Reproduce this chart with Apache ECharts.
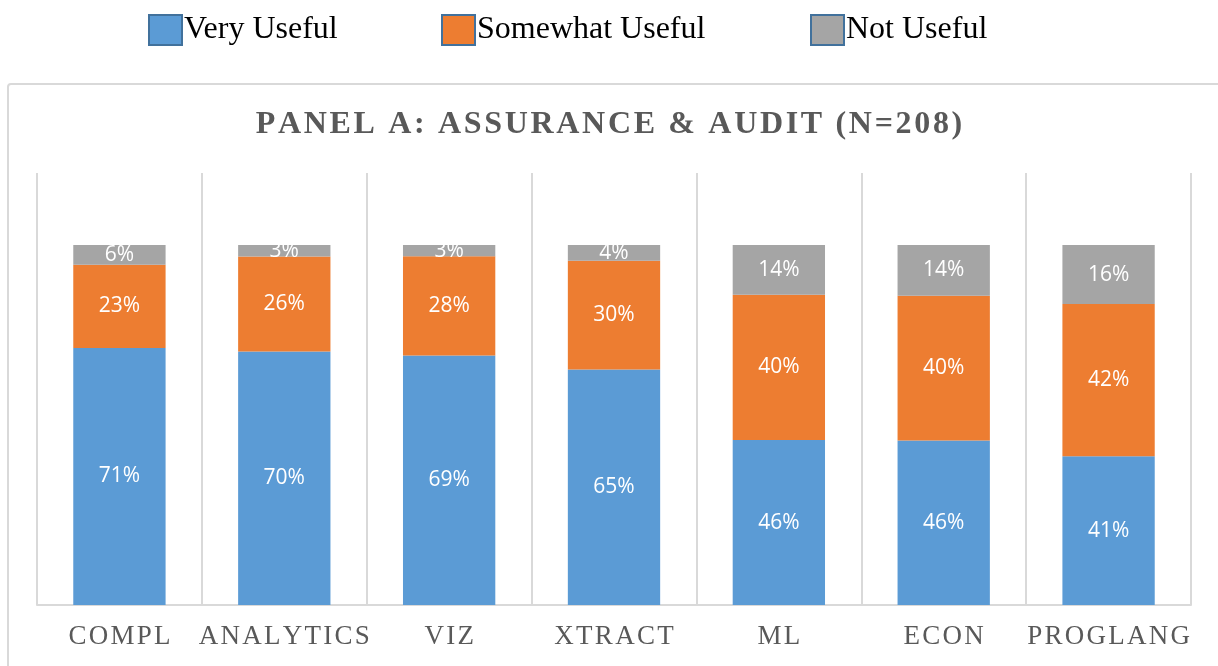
<!DOCTYPE html>
<html>
<head>
<meta charset="utf-8">
<script src="https://cdn.jsdelivr.net/npm/echarts@6/dist/echarts.min.js"></script>
<style>
  html, body { margin: 0; padding: 0; background: #fff; }
  #chart { width: 1218px; height: 666px; }
</style>
</head>
<body>
<div id="chart"></div>
<script>
// categorias e valores (% das respostas)
const categories = ['COMPL', 'ANALYTICS', 'VIZ', 'XTRACT', 'ML', 'ECON', 'PROGLANG']
const veryUseful = [71.4, 70.4, 69.3, 65.4, 45.8, 45.7, 41.3]
const somewhatUseful = [23.1, 26.4, 27.6, 30.2, 40.4, 40.2, 42.3]
const notUseful = [5.5, 3.2, 3.1, 4.4, 13.8, 14.1, 16.4]
const seriesNames = ['Very Useful', 'Somewhat Useful', 'Not Useful']
const titleText = 'PANEL A: ASSURANCE & AUDIT (N=208)'

const colors = ['#5B9BD5', '#ED7D31', '#A5A5A5']
const serif = '"Liberation Serif", "Times New Roman", serif'

// espaçamento entre letras (o zrender não tem letterSpacing)
const spaced = (s, sep) => s.split('').join(sep)

const chart = echarts.init(document.getElementById('chart'))

const legendAt = (name, left) => ({
  data: [name],
  left: left,
  top: 14,
  padding: 0,
  icon: 'rect',
  itemWidth: 33,
  itemHeight: 30,
  itemStyle: { borderColor: '#41719C', borderWidth: 2 },
  textStyle: { fontFamily: serif, fontSize: 32, color: '#000', padding: [0, 0, 0, -3] }
})

const barLabel = {
  show: true,
  position: 'inside',
  color: '#fff',
  fontFamily: '"Open Sans", "Noto Sans", sans-serif',
  fontSize: 21,
  formatter: (p) => Math.round(p.value) + '%'
}

const makeSeries = (name, data, i) => ({
  name: name,
  type: 'bar',
  stack: 'total',
  barWidth: '56%',
  data: data,
  itemStyle: { color: colors[i] },
  label: barLabel,
  emphasis: { disabled: true }
})

chart.setOption({
  animation: false,
  color: colors,
  legend: [
    legendAt(seriesNames[0], 148),
    legendAt(seriesNames[1], 441),
    legendAt(seriesNames[2], 810)
  ],
  title: {
    text: spaced(titleText, '\u200A'),
    left: 'center',
    top: 104,
    textStyle: { fontFamily: serif, fontWeight: 'bold', fontSize: 32, color: '#595959' }
  },
  graphic: [{
    type: 'rect',
    shape: { x: 8, y: 84, width: 1230, height: 620, r: 3 },
    style: { fill: 'none', stroke: '#d9d9d9', lineWidth: 2 },
    z: -1
  }],
  grid: { left: 37, right: 27, top: 173, bottom: 61 },
  xAxis: {
    type: 'category',
    data: categories,
    axisLine: { lineStyle: { color: '#d9d9d9', width: 2 } },
    axisTick: { show: false },
    splitLine: { show: true, lineStyle: { color: '#d9d9d9', width: 2 } },
    axisLabel: {
      fontFamily: serif,
      fontSize: 27,
      color: '#595959',
      margin: 18,
      interval: 0,
      formatter: (v) => spaced(v, '\u200A')
    }
  },
  yAxis: {
    type: 'value',
    min: 0,
    max: 120,
    show: false
  },
  series: [
    makeSeries(seriesNames[0], veryUseful, 0),
    makeSeries(seriesNames[1], somewhatUseful, 1),
    makeSeries(seriesNames[2], notUseful, 2)
  ]
})

window.addEventListener('resize', () => chart.resize())
</script>
</body>
</html>
